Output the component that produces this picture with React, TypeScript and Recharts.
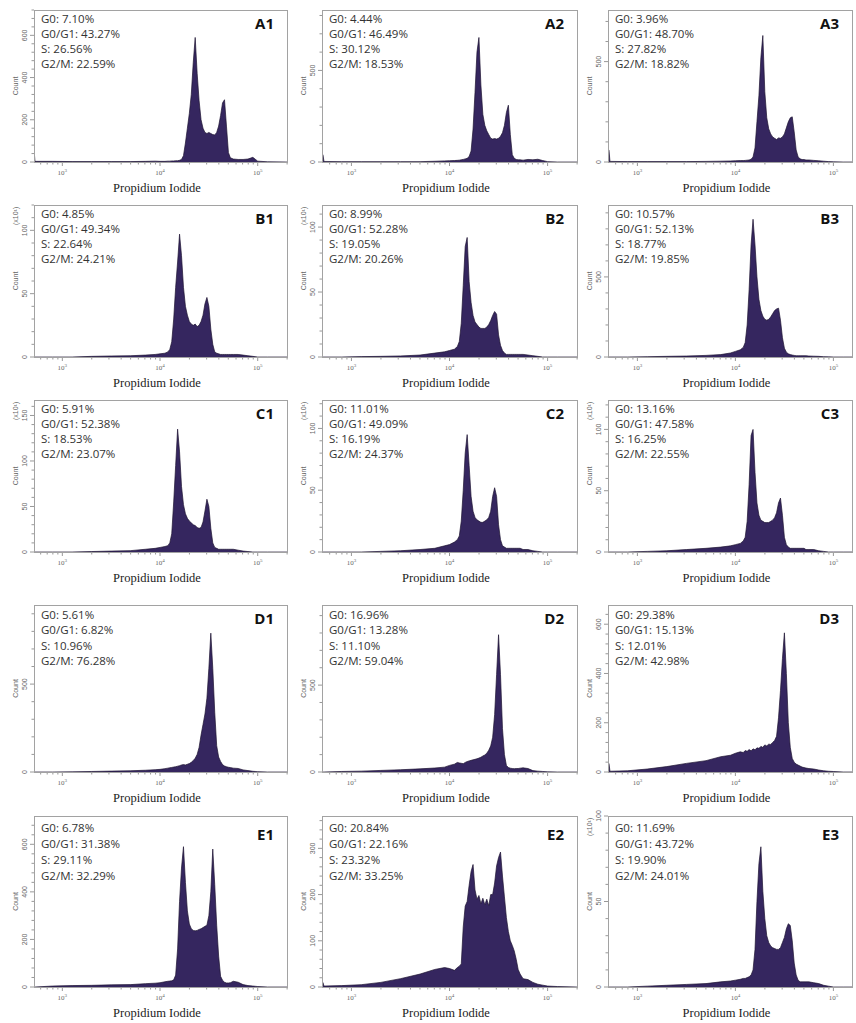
import React from 'react';
import { AreaChart, Area, XAxis, YAxis } from 'recharts';

// PI channel grid, log10 of intensity (shared by every histogram)
const PI_LOG = [
  2.71, 2.72, 2.9, 3.1, 3.3, 3.5, 3.7, 3.85, 3.95,
  4.0, 4.05, 4.08, 4.1, 4.12, 4.14, 4.16, 4.18, 4.2, 4.22,
  4.24, 4.26, 4.28, 4.3, 4.32, 4.34, 4.36, 4.38, 4.4, 4.42,
  4.44, 4.46, 4.48, 4.5, 4.52, 4.54, 4.56, 4.58, 4.6, 4.62,
  4.64, 4.66, 4.68, 4.7, 4.72, 4.75, 4.8, 4.85, 4.9, 4.95,
  5.0, 5.1, 5.3,
];

// counts per channel, one array per sample
const A1_COUNTS = [60, 3, 3, 2, 2, 2, 2, 3, 4, 3, 3, 4, 4, 5, 5, 6, 6, 8, 12, 30, 90, 160, 230, 320, 470, 590, 420, 290, 200, 160, 140, 135, 140, 135, 130, 128, 140, 170, 220, 280, 295, 170, 45, 20, 14, 12, 12, 14, 22, 4, 1, 0];
const A2_COUNTS = [40, 3, 2, 2, 2, 2, 2, 4, 6, 7, 8, 9, 10, 12, 14, 17, 20, 30, 60, 180, 380, 600, 680, 420, 260, 200, 170, 150, 130, 125, 128, 125, 130, 140, 160, 200, 270, 310, 150, 40, 20, 14, 12, 12, 10, 14, 12, 15, 8, 2, 0, 0];
const A3_COUNTS = [60, 3, 2, 2, 2, 2, 3, 4, 5, 6, 7, 7, 8, 9, 10, 14, 25, 70, 200, 330, 520, 630, 350, 220, 165, 140, 125, 118, 112, 120, 118, 125, 140, 170, 200, 220, 225, 150, 60, 25, 16, 12, 12, 10, 10, 8, 6, 4, 2, 1, 0, 0];
const B1_COUNTS = [0, 0, 0, 0, 0.5, 0.8, 1, 1.5, 2, 2.5, 3, 4, 6, 12, 30, 55, 75, 97, 80, 55, 40, 33, 28, 26, 25, 26, 24, 25, 28, 33, 42, 47, 40, 22, 10, 4, 3, 2.5, 2, 2, 2, 2, 2, 2, 2, 2, 1.5, 1, 0.5, 0, 0, 0];
const B2_COUNTS = [0, 0, 0, 0.3, 0.5, 0.8, 1.5, 3, 4, 5, 6, 8, 12, 26, 55, 85, 92, 58, 42, 32, 27, 25, 23, 22, 22, 22, 23, 25, 28, 32, 35, 33, 17, 9, 5, 3, 2, 2, 2, 2, 2, 2, 2, 2, 2, 1.5, 1, 0.5, 0, 0, 0, 0];
const B3_COUNTS = [0, 0, 0, 2, 4, 6, 10, 15, 25, 35, 45, 60, 90, 200, 420, 700, 860, 700, 500, 360, 290, 255, 235, 230, 235, 250, 270, 290, 300, 305, 230, 120, 55, 30, 20, 15, 12, 10, 8, 8, 8, 8, 8, 8, 6, 5, 4, 2, 1, 0, 0, 0];
const C1_COUNTS = [0, 0, 0, 0, 0.5, 1, 1.5, 3, 4, 5, 6, 7, 10, 20, 55, 95, 135, 110, 72, 52, 42, 37, 34, 32, 30, 29, 27, 26, 27, 33, 45, 58, 50, 26, 10, 5, 4, 3, 3, 3, 3, 3, 3, 3, 3, 2, 1, 0.5, 0, 0, 0, 0];
const C2_COUNTS = [0, 0, 0, 0, 0.5, 1, 2, 3, 5, 6, 8, 10, 13, 25, 50, 80, 95, 70, 45, 33, 28, 26, 25, 24, 24, 25, 26, 28, 33, 45, 52, 45, 22, 10, 5, 4, 3, 3, 3, 3, 3, 3, 3, 3, 2, 2, 1, 0.5, 0, 0, 0, 0];
const C3_COUNTS = [0, 0, 0, 0.5, 1, 2, 3, 4, 5, 6, 7, 9, 12, 25, 55, 95, 100, 65, 40, 30, 26, 25, 24, 24, 24, 25, 26, 28, 32, 40, 44, 30, 12, 6, 4, 3, 3, 3, 3, 3, 3, 3, 3, 2, 2, 2, 1, 0.5, 0, 0, 0, 0];
const D1_COUNTS = [0, 0, 0, 1, 3, 5, 7, 10, 13, 15, 19, 22, 24, 26, 28, 30, 33, 36, 40, 42, 40, 44, 48, 55, 65, 78, 100, 140, 210, 270, 330, 420, 590, 790, 590, 340, 150, 85, 60, 42, 34, 30, 27, 25, 22, 20, 12, 8, 4, 2, 0, 0];
const D2_COUNTS = [0, 0, 3, 5, 9, 13, 18, 23, 28, 38, 45, 55, 52, 50, 48, 55, 60, 64, 67, 70, 73, 76, 80, 85, 92, 98, 108, 125, 150, 200, 330, 560, 790, 560, 250, 100, 38, 26, 22, 20, 19, 20, 20, 22, 24, 20, 8, 5, 3, 1, 0, 0];
const D3_COUNTS = [35, 3, 5, 12, 22, 35, 46, 62, 68, 76, 82, 79, 87, 84, 91, 86, 94, 90, 98, 96, 104, 100, 110, 106, 113, 112, 120, 128, 145, 220, 330, 460, 565, 400, 200, 100, 55, 40, 32, 28, 24, 20, 18, 16, 14, 12, 8, 5, 3, 2, 0, 0];
const E1_COUNTS = [0, 0, 4, 6, 7, 9, 10, 14, 16, 18, 22, 24, 25, 26, 30, 50, 160, 360, 500, 590, 440, 320, 265, 245, 238, 236, 238, 242, 245, 250, 255, 260, 300, 400, 580, 430, 260, 130, 45, 28, 20, 17, 17, 18, 24, 20, 10, 6, 4, 2, 0, 0];
const E2_COUNTS = [10, 2, 3, 5, 10, 18, 28, 38, 42, 40, 36, 42, 45, 50, 130, 175, 185, 220, 250, 265, 210, 190, 198, 180, 192, 178, 190, 176, 200, 200, 225, 262, 280, 292, 240, 195, 150, 120, 100, 90, 78, 60, 38, 28, 18, 16, 10, 6, 4, 2, 1, 0];
const E3_COUNTS = [0, 0, 0, 0.5, 1, 1.5, 2, 3, 3.5, 4, 4.5, 5, 5, 5.5, 6, 7, 10, 22, 50, 72, 82, 56, 40, 30, 26, 24, 23, 22.5, 22, 22, 23, 26, 29, 34, 37, 36, 27, 14, 7, 4, 3, 3, 3, 3, 3, 2.5, 2, 1, 0.5, 0, 0, 0];

const PANEL_IDS = ['A1', 'A2', 'A3', 'B1', 'B2', 'B3', 'C1', 'C2', 'C3', 'D1', 'D2', 'D3', 'E1', 'E2', 'E3'];
const G0_PCT = ['7.10', '4.44', '3.96', '4.85', '8.99', '10.57', '5.91', '11.01', '13.16', '5.61', '16.96', '29.38', '6.78', '20.84', '11.69'];
const G0G1_PCT = ['43.27', '46.49', '48.70', '49.34', '52.28', '52.13', '52.38', '49.09', '47.58', '6.82', '13.28', '15.13', '31.38', '22.16', '43.72'];
const S_PCT = ['26.56', '30.12', '27.82', '22.64', '19.05', '18.77', '18.53', '16.19', '16.25', '10.96', '11.10', '12.01', '29.11', '23.32', '19.90'];
const G2M_PCT = ['22.59', '18.53', '18.82', '24.21', '20.26', '19.85', '23.07', '24.37', '22.55', '76.28', '59.04', '42.98', '32.29', '33.25', '24.01'];

const Y_MAX = [720, 830, 757, 120, 117, 949, 167, 123, 124, 950, 961, 678, 719, 370, 100];
const Y_STEP = [200, 500, 500, 50, 50, 500, 50, 50, 50, 500, 500, 200, 200, 100, 50];
const Y_X10 = [false, false, false, true, true, false, true, true, true, false, false, false, false, false, true];

const PANEL_COUNTS = [
  A1_COUNTS, A2_COUNTS, A3_COUNTS,
  B1_COUNTS, B2_COUNTS, B3_COUNTS,
  C1_COUNTS, C2_COUNTS, C3_COUNTS,
  D1_COUNTS, D2_COUNTS, D3_COUNTS,
  E1_COUNTS, E2_COUNTS, E3_COUNTS,
];

const X_DECADES = [2, 3, 4, 5];
const X_MULT = [1, 2, 3, 4, 5, 6, 7, 8, 9];

// page layout (plot frame of each panel)
const COL_LEFT = [34, 322, 608];
const COL_WIDTH = [254, 256, 245];
const COL_DOMAIN: [number, number][] = [[2.71, 5.31], [2.7, 5.31], [2.7, 5.2]];
const ROW_TOP = [10, 205, 400, 605, 816];
const ROW_HEIGHT = [152, 152, 152, 167, 171];
const ROW_TEXT_TOP = [0.5, 0.5, 0.5, 1.5, 4];
const ROW_LINE_H = [15, 15, 15, 15.5, 16];
const ROW_ID_TOP = [3, 3, 3, 3, 8];

const AXIS_W = 30;
const AXIS_H = 30;
const PAD_TOP = 8;
const FILL = '#35265f';
const EDGE = '#1c1330';
const FRAME = '#a2a2a2';
const TICK = '#7d7d7d';
const LABEL = '#666';

function xTicksFor(dom: [number, number]) {
  const out: number[] = [];
  X_DECADES.forEach((e) => {
    X_MULT.forEach((m) => {
      const v = e + Math.log10(m);
      if (v >= dom[0] && v <= dom[1]) out.push(v);
    });
  });
  return out;
}

function yTicksFor(max: number, step: number) {
  const out: number[] = [];
  const minor = step / 5;
  for (let i = 0; i * minor <= max + 1e-9; i++) out.push(Math.round(i * minor * 1000) / 1000);
  return out;
}

const XTick = (props: any) => {
  const { x, y, payload } = props;
  const v = payload.value;
  const major = Math.abs(v - Math.round(v)) < 1e-9;
  return (
    <g>
      <line x1={x} x2={x} y1={y} y2={y + (major ? 4 : 2.5)} stroke={TICK} strokeWidth={0.8} />
      {major && (
        <text x={x} y={y + 13} textAnchor="middle" fontSize={7} fill={LABEL} fontFamily="Liberation Serif">
          10<tspan dy={-3} fontSize={5}>{Math.round(v)}</tspan>
        </text>
      )}
    </g>
  );
};

const makeYTick = (step: number) => (props: any) => {
  const { x, y, payload } = props;
  const v = payload.value;
  const major = Math.abs(v / step - Math.round(v / step)) < 1e-6;
  return (
    <g>
      <line x1={x - (major ? 4 : 2.5)} x2={x} y1={y} y2={y} stroke={TICK} strokeWidth={0.8} />
      {major && (
        <text transform={`translate(${x - 7},${y}) rotate(-90)`} textAnchor="middle" fontSize={7} fill={LABEL} fontFamily="Liberation Sans">
          {v}
        </text>
      )}
    </g>
  );
};

function Panel({ idx }: { idx: number }) {
  const row = Math.floor(idx / 3);
  const col = idx % 3;
  const L = COL_LEFT[col];
  const W = COL_WIDTH[col];
  const T = ROW_TOP[row];
  const H = ROW_HEIGHT[row];
  const dom = COL_DOMAIN[col];
  const counts = PANEL_COUNTS[idx];
  const data = PI_LOG.map((x, i) => ({ x, count: counts[i] }));
  const lines = [
    `G0: ${G0_PCT[idx]}%`,
    `G0/G1: ${G0G1_PCT[idx]}%`,
    `S: ${S_PCT[idx]}%`,
    `G2/M: ${G2M_PCT[idx]}%`,
  ];

  return (
    <>
      <div style={{ position: 'absolute', left: L - AXIS_W, top: T - PAD_TOP }}>
        <AreaChart width={W + AXIS_W} height={H + AXIS_H + PAD_TOP} data={data} margin={{ top: PAD_TOP, right: 0, bottom: 0, left: 0 }}>
          <XAxis
            dataKey="x"
            type="number"
            domain={dom}
            allowDataOverflow
            ticks={xTicksFor(dom)}
            interval={0}
            tickSize={0}
            tickMargin={0}
            axisLine={false}
            tickLine={false}
            tick={XTick}
            height={AXIS_H}
          />
          <YAxis
            type="number"
            domain={[0, Y_MAX[idx]]}
            allowDataOverflow
            ticks={yTicksFor(Y_MAX[idx], Y_STEP[idx])}
            interval={0}
            tickSize={0}
            tickMargin={0}
            axisLine={false}
            tickLine={false}
            tick={makeYTick(Y_STEP[idx])}
            width={AXIS_W}
          />
          <Area
            type="linear"
            dataKey="count"
            stroke={EDGE}
            strokeWidth={0.7}
            fill={FILL}
            fillOpacity={1}
            dot={false}
            activeDot={false}
            isAnimationActive={false}
          />
        </AreaChart>
      </div>
      <div
        style={{
          position: 'absolute', left: L, top: T, width: W, height: H + 1,
          border: `1px solid ${FRAME}`, boxSizing: 'border-box', pointerEvents: 'none',
        }}
      />
      <div
        style={{
          position: 'absolute', left: L + 7, top: T + ROW_TEXT_TOP[row],
          fontFamily: '"Open Sans", sans-serif', fontSize: 11.5, lineHeight: `${ROW_LINE_H[row]}px`,
          color: '#333', whiteSpace: 'nowrap',
        }}
      >
        {lines.map((t) => <div key={t}>{t}</div>)}
      </div>
      <div
        style={{
          position: 'absolute', left: L + W - 60, width: 46, top: T + ROW_ID_TOP[row], textAlign: 'right',
          fontFamily: '"Open Sans", sans-serif', fontWeight: 700, fontSize: 15, lineHeight: '20px', color: '#111',
        }}
      >
        {PANEL_IDS[idx]}
      </div>
      <div
        style={{
          position: 'absolute', left: L + W / 2 - 80, width: 152, top: T + H + 18, textAlign: 'center',
          fontFamily: '"Liberation Serif", serif', fontSize: 12.5, lineHeight: '16px', color: '#222',
        }}
      >
        Propidium Iodide
      </div>
    </>
  );
}

function SideLabels() {
  return (
    <svg width={856} height={1023} style={{ position: 'absolute', left: 0, top: 0, pointerEvents: 'none' }}>
      {PANEL_IDS.map((id, idx) => {
        const row = Math.floor(idx / 3);
        const col = idx % 3;
        const L = COL_LEFT[col];
        const T = ROW_TOP[row];
        const H = ROW_HEIGHT[row];
        return (
          <g key={id} fontFamily="Liberation Sans" fontSize={7} fill={LABEL}>
            <text transform={`translate(${L - 16},${T + H / 2}) rotate(-90)`} textAnchor="middle">Count</text>
            {Y_X10[idx] && (
              <text transform={`translate(${L - 16},${T + 20}) rotate(-90)`} textAnchor="start">(x10¹)</text>
            )}
          </g>
        );
      })}
    </svg>
  );
}

export default function App() {
  return (
    <div style={{ position: 'absolute', left: 0, top: 0, width: 856, height: 1023, background: '#fff', overflow: 'hidden' }}>
      {PANEL_IDS.map((id, idx) => <Panel key={id} idx={idx} />)}
      <SideLabels />
    </div>
  );
}
